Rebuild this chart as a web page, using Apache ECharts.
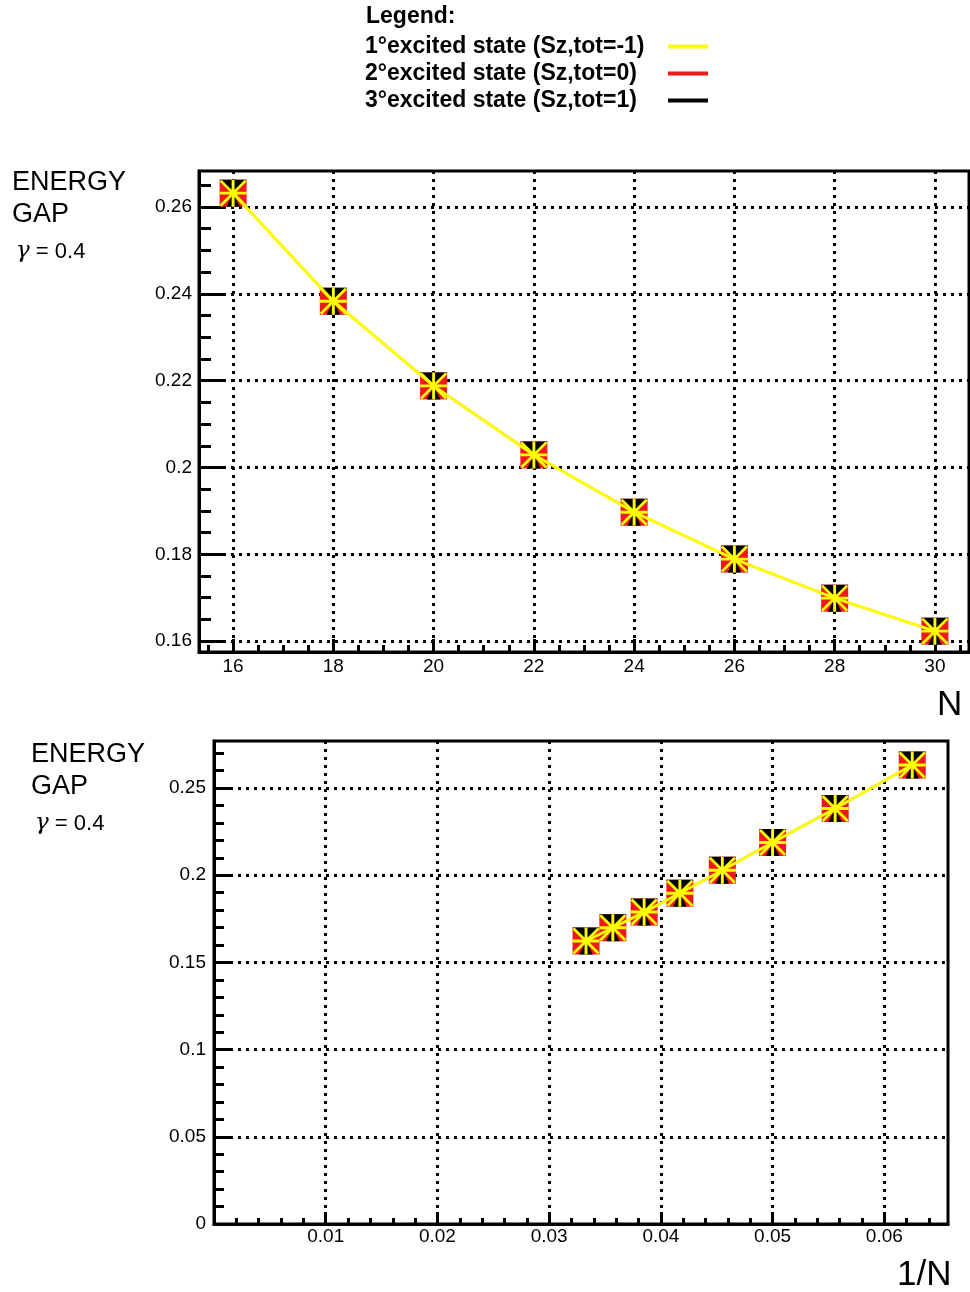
<!DOCTYPE html>
<html><head><meta charset="utf-8">
<script src="https://cdn.jsdelivr.net/npm/echarts@6/dist/echarts.min.js"></script>
<style>html,body{margin:0;padding:0;background:#fff}#c{width:970px;height:1292px}</style>
</head><body><div id="c"></div>
<script>
// ---- data ----
const N = [16, 18, 20, 22, 24, 26, 28, 30];
const invN = [0.0625, 0.0556, 0.05, 0.0455, 0.0417, 0.0385, 0.0357, 0.0333];
const gapSzMinus1 = [0.2632, 0.2383, 0.2188, 0.2029, 0.1897, 0.1789, 0.1699, 0.1623];
const gapSz0      = [0.2632, 0.2383, 0.2188, 0.2029, 0.1897, 0.1789, 0.1699, 0.1623];
const gapSzPlus1  = [0.2632, 0.2383, 0.2188, 0.2029, 0.1897, 0.1789, 0.1699, 0.1623];
const seriesNames = ['1°excited state (Sz,tot=-1)', '2°excited state (Sz,tot=0)', '3°excited state (Sz,tot=1)'];
const xTicksTop = [16, 18, 20, 22, 24, 26, 28, 30];
const yTicksTop = [0.16, 0.18, 0.2, 0.22, 0.24, 0.26];
const xTicksBot = [0.01, 0.02, 0.03, 0.04, 0.05, 0.06];
const yTicksBot = [0, 0.05, 0.1, 0.15, 0.2, 0.25];

function minors(start, end, step, majors) {
  const out = [];
  for (let v = start; v <= end + 1e-9; v += step) {
    const r = Math.round(v * 1e6) / 1e6;
    if (!majors.some(m => Math.abs(m - r) < 1e-9)) out.push(r);
  }
  return out;
}
const xMinorTop = minors(15.5, 30.5, 0.5, xTicksTop);
const yMinorTop = minors(0.16, 0.265, 0.005, yTicksTop);
const xMinorBot = minors(0.002, 0.064, 0.002, xTicksBot);
const yMinorBot = minors(0.01, 0.27, 0.01, yTicksBot);

const FONT = 'Liberation Sans, Arial, sans-serif';
const dotted = {type: [3, 5], width: 3, color: '#000'};

function majorAxis(grid, min, max, ticks, tickLen, labelMargin, splitNumber, pos) {
  return {
    type: 'value', gridIndex: grid, min, max, position: pos, splitNumber,
    axisLine: {show: true, onZero: false, lineStyle: {color: '#000', width: 3}},
    axisTick: {show: true, inside: true, length: tickLen, customValues: ticks, lineStyle: {color: '#000', width: 3}},
    axisLabel: {show: true, customValues: ticks, margin: labelMargin, fontSize: 19, color: '#000', fontFamily: FONT,
      showMinLabel: true, showMaxLabel: true},
    splitLine: {show: true, lineStyle: dotted},
    minorTick: {show: false}
  };
}
function minorAxis(grid, min, max, ticks, tickLen, pos) {
  return {
    type: 'value', gridIndex: grid, min, max, position: pos,
    axisLine: {show: false, onZero: false},
    axisTick: {show: true, inside: true, length: tickLen, customValues: ticks, lineStyle: {color: '#000', width: 3}},
    axisLabel: {show: false},
    splitLine: {show: false}
  };
}

const hourglass = 'path://M0 0 L28 0 L14 14 Z M14 14 L21 28 L7 28 Z';
const star = 'path://M0 12.5 L28 12.5 L28 15.5 L0 15.5 Z M12.5 0 L15.5 0 L15.5 28 L12.5 28 Z M0 2 L2 0 L28 26 L26 28 Z M26 0 L28 2 L2 28 L0 26 Z';

function makeSeries(xs, grid, xi, yi) {
  const pts = v => xs.map((x, i) => [x, v[i]]);
  return [
    {name: seriesNames[1], type: 'line', xAxisIndex: xi, yAxisIndex: yi, data: pts(gapSz0),
      color: '#f01818', lineStyle: {width: 2, color: '#f01818'}, symbol: 'rect', symbolSize: 27,
      itemStyle: {color: '#f01818'}, z: 2, clip: false},
    {name: seriesNames[2], type: 'line', xAxisIndex: xi, yAxisIndex: yi, data: pts(gapSzPlus1),
      color: '#000', lineStyle: {width: 2, color: '#000'}, symbol: hourglass, symbolSize: 27,
      itemStyle: {color: '#000'}, z: 3, clip: false},
    {name: seriesNames[0], type: 'line', xAxisIndex: xi, yAxisIndex: yi, data: pts(gapSzMinus1),
      color: '#ffff00', lineStyle: {width: 3, color: '#ffff00'}, symbol: star, symbolSize: 27,
      itemStyle: {color: '#ffff00'}, z: 4, clip: false}
  ];
}

const titleStyle = {fontFamily: FONT, color: '#000', fontWeight: 'normal'};
const gammaRich = {g: {fontFamily: 'DejaVu Serif, serif', fontStyle: 'italic', fontWeight: 'normal', fontSize: 23, color: '#000'},
                   v: {fontFamily: FONT, fontWeight: 'normal', fontSize: 22, color: '#000'}};

const option = {
  animation: false,
  backgroundColor: '#fff',
  title: [
    {text: 'Legend:', left: 366, top: 5, padding: 0, textStyle: Object.assign({}, titleStyle, {fontSize: 23, fontWeight: 'bold'})},
    {text: 'ENERGY\nGAP', left: 12, top: 167, padding: 0, textStyle: Object.assign({}, titleStyle, {fontSize: 27, lineHeight: 32})},
    {text: '{g|γ}{v| = 0.4}', left: 16, top: 240, padding: 0, textStyle: {fontWeight: 'normal', rich: gammaRich}},
    {text: 'N', left: 937, top: 688, padding: 0, textStyle: Object.assign({}, titleStyle, {fontSize: 35})},
    {text: 'ENERGY\nGAP', left: 31, top: 739, padding: 0, textStyle: Object.assign({}, titleStyle, {fontSize: 27, lineHeight: 32})},
    {text: '{g|γ}{v| = 0.4}', left: 35, top: 812, padding: 0, textStyle: {fontWeight: 'normal', rich: gammaRich}},
    {text: '1/N', left: 897, top: 1258, padding: 0, textStyle: Object.assign({}, titleStyle, {fontSize: 35})}
  ],
  legend: {
    data: seriesNames, orient: 'vertical', left: 365, top: 35, padding: 0, itemGap: 4,
    align: 'right', icon: 'rect', itemWidth: 40, itemHeight: 4,
    formatter: name => '{t|' + name + '}',
    textStyle: {rich: {t: {width: 298, align: 'left', fontSize: 23, fontWeight: 'bold', fontFamily: FONT, color: '#000'}}}
  },
  grid: [
    {left: 199, top: 171, width: 770, height: 481, show: true, borderColor: '#000', borderWidth: 3, backgroundColor: '#fff'},
    {left: 214, top: 741, width: 734, height: 483, show: true, borderColor: '#000', borderWidth: 3, backgroundColor: '#fff'}
  ],
  xAxis: [
    majorAxis(0, 15.32, 30.68, xTicksTop, 13, 5, 7, 'bottom'),
    minorAxis(0, 15.32, 30.68, xMinorTop, 7, 'bottom'),
    majorAxis(1, 0, 0.0657, xTicksBot, 12, 3, 7, 'bottom'),
    minorAxis(1, 0, 0.0657, xMinorBot, 6, 'bottom')
  ],
  yAxis: [
    majorAxis(0, 0.1575, 0.2683, yTicksTop, 26, 7, 6, 'left'),
    minorAxis(0, 0.1575, 0.2683, yMinorTop, 12, 'left'),
    majorAxis(1, 0, 0.277, yTicksBot, 18, 8, 6, 'left'),
    minorAxis(1, 0, 0.277, yMinorBot, 10, 'left')
  ],
  series: [].concat(makeSeries(N, 0, 0, 0), makeSeries(invN, 1, 2, 2))
};
const chart = echarts.init(document.getElementById('c'), null, {renderer: 'canvas'});
chart.setOption(option);
</script></body></html>
